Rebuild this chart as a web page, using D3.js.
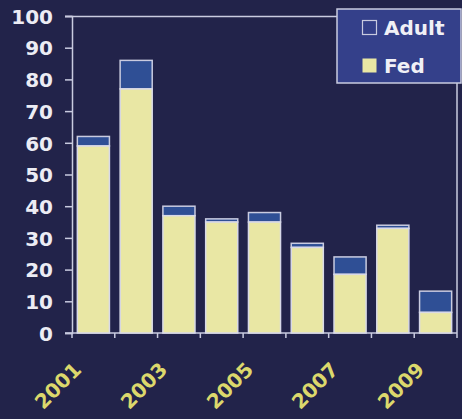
<!DOCTYPE html>
<html>
<head>
<meta charset="utf-8">
<script src="https://cdn.jsdelivr.net/npm/d3@7/dist/d3.min.js"></script>
<style>
  html, body { margin: 0; padding: 0; background: #22234a; }
  #wrap { position: relative; width: 462px; height: 419px; overflow: hidden; }
  svg { display: block; position: absolute; left: 0; top: 0; }
  .xl { position: absolute; white-space: nowrap; color: #dcd86c; font-family: "DejaVu Sans"; font-weight: bold;
        font-size: 20px; line-height: 20px; transform-origin: 100% 100%; transform: rotate(-45deg); }
</style>
</head>
<body>
<div id="wrap"><svg id="chart" width="462" height="419"></svg></div>
<script>
const years = ["2001","2002","2003","2004","2005","2006","2007","2008","2009"];
const fed   = [59, 77, 37, 35, 35, 27, 18.5, 33, 6.5];
const adult = [3, 9, 3, 1, 3, 1.3, 5.5, 1, 6.7];
const yTicks = [0,10,20,30,40,50,60,70,80,90,100];
const xLabels = ["2001","2003","2005","2007","2009"];
const seriesNames = ["Adult","Fed"];

const W = 462, H = 419;
const m = {left: 72, right: 5, top: 16, bottom: 86};
const iw = W - m.left - m.right, ih = H - m.top - m.bottom;

const svg = d3.select("#chart");
svg.append("rect").attr("width", W).attr("height", H).attr("fill", "#22234a");

const g = svg.append("g").attr("transform", `translate(${m.left},${m.top})`);

const x = d3.scaleBand().domain(years).range([0, iw]).paddingInner(0.25).paddingOuter(0.125);
const y = d3.scaleLinear().domain([0, 100]).range([ih, 0]);

const lineCol = "#c9cbe0";
const fedCol = "#e9e7a4";
const adultCol = "#2f4f95";

// frame (top & right)
g.append("path")
  .attr("d", `M${-7},0.5 H${iw} V${ih}`)
  .attr("fill", "none").attr("stroke", lineCol).attr("stroke-width", 1.5);

// Y axis
const yAxis = g.append("g").call(d3.axisLeft(y).tickValues(yTicks).tickSize(7).tickPadding(12));
yAxis.select(".domain").attr("stroke", lineCol).attr("stroke-width", 1.5);
yAxis.selectAll(".tick line").attr("stroke", lineCol).attr("stroke-width", 1.5);
yAxis.selectAll(".tick text")
  .attr("fill", "#ececf4").attr("font-family", "DejaVu Sans").attr("font-weight", "bold")
  .attr("font-size", "20px").attr("dy", "0.36em");

// X axis baseline with boundary ticks
const xb = g.append("g").attr("transform", `translate(0,${ih})`);
xb.append("line").attr("x1", -7).attr("x2", iw).attr("stroke", lineCol).attr("stroke-width", 1.5);
const step = x.step();
d3.range(years.length + 1).forEach(i => {
  const px = Math.min(i * step, iw);
  xb.append("line").attr("x1", px).attr("x2", px).attr("y1", 0).attr("y2", 5)
    .attr("stroke", lineCol).attr("stroke-width", 1.5);
});

// bars
const bars = g.append("g");
years.forEach((yr, i) => {
  const bx = x(yr), bw = x.bandwidth();
  bars.append("rect")
    .attr("x", bx).attr("width", bw)
    .attr("y", y(fed[i] + adult[i])).attr("height", y(fed[i]) - y(fed[i] + adult[i]))
    .attr("fill", adultCol).attr("stroke", lineCol).attr("stroke-width", 1.5);
  bars.append("rect")
    .attr("x", bx).attr("width", bw)
    .attr("y", y(fed[i])).attr("height", y(0) - y(fed[i]))
    .attr("fill", fedCol).attr("stroke", "#d8d9e8").attr("stroke-width", 1.5);
});

// X labels: HTML, rotated -45deg about their bottom-right corner
const wrap = d3.select("#wrap");
xLabels.forEach(lbl => {
  const ex = m.left + x(lbl) + x.bandwidth() / 2 - 8;
  const ey = m.top + ih + 40;
  const d = wrap.append("div").attr("class", "xl").text(lbl);
  const bw = d.node().offsetWidth, bh = d.node().offsetHeight;
  d.style("left", (ex - bw) + "px").style("top", (ey - bh) + "px");
});

// legend
const lg = svg.append("g");
lg.append("rect").attr("x", 337).attr("y", 9).attr("width", 124).attr("height", 74)
  .attr("fill", "#34408a").attr("stroke", lineCol).attr("stroke-width", 1.5);
const legendFills = ["#34408a", fedCol];
seriesNames.forEach((nm, i) => {
  const yy = 20 + i * 38;
  lg.append("rect").attr("x", 362.5).attr("y", yy + 0.5).attr("width", 14).attr("height", 14)
    .attr("fill", legendFills[i]).attr("stroke", i === 0 ? "#c9cbe0" : "none").attr("stroke-width", 1.2);
  lg.append("text").attr("x", 384).attr("y", yy + 15)
    .attr("fill", "#f0f0f6").attr("font-family", "DejaVu Sans").attr("font-weight", "bold")
    .attr("font-size", "20px").text(nm);
});
</script>
</body>
</html>
